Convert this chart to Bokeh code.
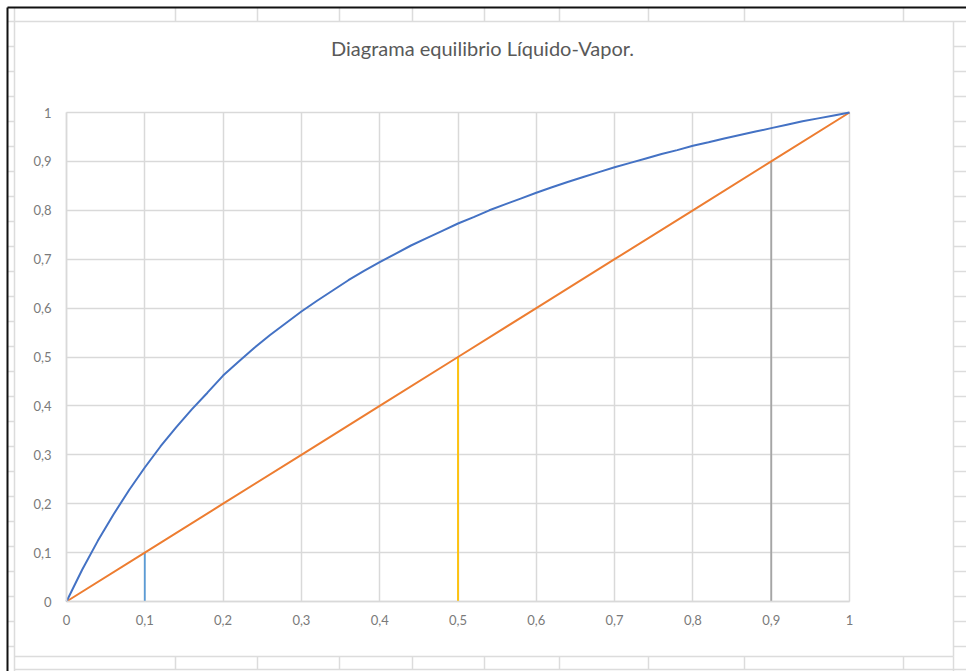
from bokeh.plotting import figure
from bokeh.models import Range1d, LinearAxis, Grid, FixedTicker, CustomJSTickFormatter, Label
from bokeh.embed import file_html
from bokeh.resources import INLINE

# Equilibrium curve: liquid mole fraction x vs vapour mole fraction y
x_liq = [0.00, 0.02, 0.04, 0.06, 0.08, 0.10, 0.12, 0.14, 0.16, 0.18,
         0.20, 0.22, 0.24, 0.26, 0.28, 0.30, 0.32, 0.34, 0.36, 0.38,
         0.40, 0.42, 0.44, 0.46, 0.48, 0.50, 0.52, 0.54, 0.56, 0.58,
         0.60, 0.62, 0.64, 0.66, 0.68, 0.70, 0.72, 0.74, 0.76, 0.78,
         0.80, 0.82, 0.84, 0.86, 0.88, 0.90, 0.92, 0.94, 0.96, 0.98, 1.00]
y_vap = [0.000, 0.065, 0.124, 0.178, 0.228, 0.274, 0.317, 0.356, 0.393, 0.427,
         0.462, 0.491, 0.519, 0.545, 0.569, 0.593, 0.615, 0.636, 0.657, 0.676,
         0.694, 0.711, 0.728, 0.743, 0.758, 0.773, 0.786, 0.800, 0.812, 0.824,
         0.836, 0.847, 0.858, 0.868, 0.878, 0.888, 0.897, 0.906, 0.915, 0.923,
         0.932, 0.939, 0.947, 0.954, 0.961, 0.968, 0.975, 0.982, 0.988, 0.994, 1.000]

# 45-degree line y = x
diag_x = [0.0, 0.1, 0.2, 0.3, 0.4, 0.5, 0.6, 0.7, 0.8, 0.9, 1.0]
diag_y = [0.0, 0.1, 0.2, 0.3, 0.4, 0.5, 0.6, 0.7, 0.8, 0.9, 1.0]

# Bottoms, feed and distillate compositions (vertical markers up to the diagonal)
comp_x = [0.1, 0.5, 0.9]
comp_y = [0.1, 0.5, 0.9]
comp_colors = ["#5B9BD5", "#FFC000", "#A5A5A5"]

tick_values = [0.0, 0.1, 0.2, 0.3, 0.4, 0.5, 0.6, 0.7, 0.8, 0.9, 1.0]
tick_labels = ["0", "0,1", "0,2", "0,3", "0,4", "0,5", "0,6", "0,7", "0,8", "0,9", "1"]

title_text = "Diagrama equilibrio Líquido-Vapor."

# ---- page geometry (pixels) ----
W, H = 966, 671
PX0, PX1 = 66, 849      # horizontal pixel of x=0 and x=1
PY0, PY1 = 601, 112     # vertical pixel of y=0 and y=1
sx = PX1 - PX0
sy = PY0 - PY1

GRID = "#d9d9d9"
SHEET = "#dcdcdc"
LABEL = "#7a7a7a"
FONT = "Lato"

p = figure(width=W, height=H, title=None,
           x_range=Range1d(-PX0 / sx, (W - PX0) / sx),
           y_range=Range1d(-(H - PY0) / sy, PY0 / sy),
           x_axis_location=None, y_axis_location=None,
           toolbar_location=None, output_backend="svg",
           min_border=0, outline_line_color=None,
           background_fill_color="white", border_fill_color="white")
p.xgrid.visible = False
p.ygrid.visible = False

# pixel-space ranges for the worksheet decoration around the chart
p.extra_x_ranges = {"px": Range1d(0, W)}
p.extra_y_ranges = {"px": Range1d(H, 0)}

cols = [175, 257, 339, 412, 484, 559, 648, 744, 903]
rows = [21 + 25 * k for k in range(1, 26)]

x0s, y0s, x1s, y1s = [], [], [], []
def seg(a, b, c, d):
    x0s.append(a); y0s.append(b); x1s.append(c); y1s.append(d)

seg(14, 7, 14, H)          # first column border
seg(7, 21, W, 21)          # header row border
for c in cols:
    seg(c, 7, c, 21)       # columns above the chart
    seg(c, 656, c, 669)    # columns below the chart
for r in rows:
    seg(7, r, 14, r)       # rows left of the chart
    seg(953, r, W, r)      # rows right of the chart
seg(953, 21, 953, 656)     # chart right edge
seg(14, 656, 953, 656)     # chart bottom edge
seg(14, 669, W, 669)
seg(953, 656, 953, H)

p.segment(x0s, y0s, x1s, y1s, line_color=SHEET, line_width=1.5,
          x_range_name="px", y_range_name="px")
# dark window edges
p.segment([7, 7], [7, 7], [W, 7], [7, H], line_color="#111111", line_width=2,
          x_range_name="px", y_range_name="px")

ticker = FixedTicker(ticks=tick_values)
fmt = CustomJSTickFormatter(args=dict(labels=tick_labels),
                            code="return labels[Math.round(tick * 10)];")

p.add_layout(Grid(dimension=0, ticker=ticker, bounds=(0, 1), cross_bounds=(0, 1),
                  grid_line_color=GRID, grid_line_width=1.5))
p.add_layout(Grid(dimension=1, ticker=ticker, bounds=(0, 1), cross_bounds=(0, 1),
                  grid_line_color=GRID, grid_line_width=1.5))

def style_axis(ax, standoff):
    ax.axis_line_color = GRID
    ax.axis_line_width = 1.5
    ax.major_tick_line_color = None
    ax.minor_tick_line_color = None
    ax.major_tick_in = 0
    ax.major_tick_out = 0
    ax.major_label_text_font = FONT
    ax.major_label_text_font_size = "13px"
    ax.major_label_text_color = LABEL
    ax.major_label_standoff = standoff

xax = LinearAxis(fixed_location=0, bounds=(0, 1), ticker=ticker, formatter=fmt)
yax = LinearAxis(fixed_location=0, bounds=(0, 1), ticker=ticker, formatter=fmt)
style_axis(xax, 13)
style_axis(yax, 15)
p.add_layout(xax, "below")
p.add_layout(yax, "left")

# composition markers
p.segment(x0=comp_x, y0=[0] * len(comp_x), x1=comp_x, y1=comp_y,
          line_color=comp_colors, line_width=1.8)

# diagonal and equilibrium curve
p.line(diag_x, diag_y, line_color="#ED7D31", line_width=2)
p.line(x_liq, y_vap, line_color="#4472C4", line_width=2)

p.add_layout(Label(x=482, y=47, x_range_name="px", y_range_name="px",
                   text=title_text, text_align="center", text_baseline="middle",
                   text_font=FONT, text_font_size="20px", text_color="#595959"))

open("out.html", "w").write(file_html(p, INLINE))
